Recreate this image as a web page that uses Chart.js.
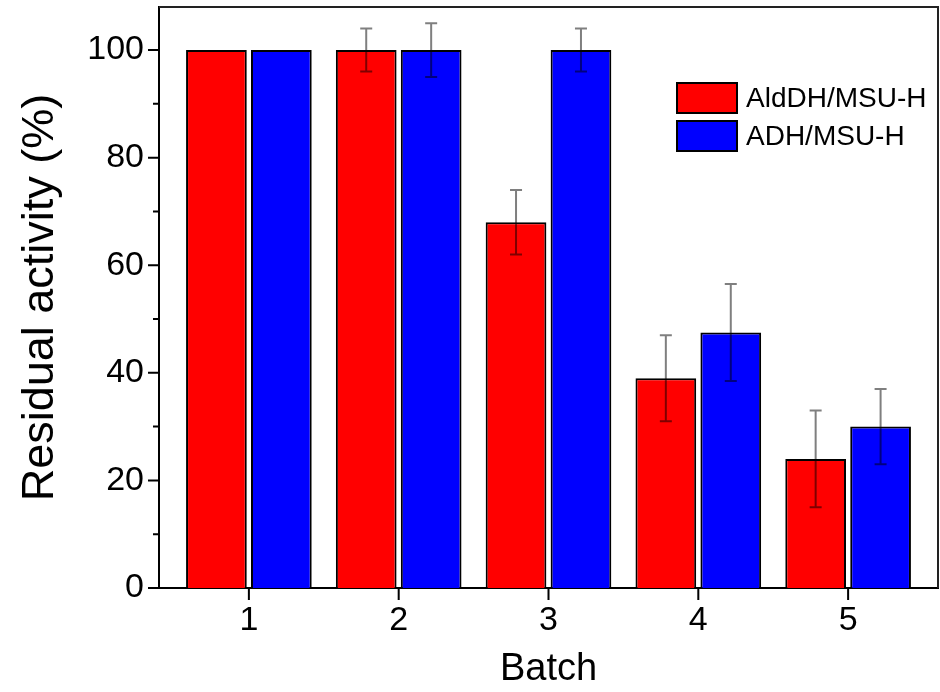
<!DOCTYPE html>
<html>
<head>
<meta charset="utf-8">
<script src="https://cdn.jsdelivr.net/npm/chart.js@4"></script>
<style>
  body { margin: 0; background: #fff; }
  canvas { display: block; }
</style>
</head>
<body>
<canvas id="batchChart" width="940" height="692"></canvas>
<script>
// === DATA ===
var BATCHES = [1, 2, 3, 4, 5];
var ALDDH_VALUES = [100, 100, 68, 39, 24];
var ALDDH_ERRORS = [0, 4, 6, 8, 9];
var ADH_VALUES = [100, 100, 100, 47.5, 30];
var ADH_ERRORS = [0, 5, 4, 9, 7];
var Y_TICKS = [0, 20, 40, 60, 80, 100];
var Y_MINOR_TICKS = [10, 30, 50, 70, 90];

var FONT = '"Liberation Sans", Arial, sans-serif';

function toPoints(values) {
  return BATCHES.map(function(b, i) { return { x: b, y: values[i] }; });
}

// Error bars drawn on top of the bars, from the bar elements + y scale
var errorBarPlugin = {
  id: 'errorBars',
  afterDatasetsDraw: function(chart) {
    var ctx = chart.ctx;
    var yScale = chart.scales.y;
    ctx.save();
    ctx.strokeStyle = 'rgba(0,0,0,0.5)';
    ctx.lineWidth = 2;
    chart.data.datasets.forEach(function(ds, i) {
      var meta = chart.getDatasetMeta(i);
      meta.data.forEach(function(bar, j) {
        var err = ds.errors[j];
        if (!err) return;
        var v = ds.data[j].y;
        var top = yScale.getPixelForValue(v + err);
        var bot = yScale.getPixelForValue(v - err);
        ctx.beginPath();
        ctx.moveTo(bar.x, top); ctx.lineTo(bar.x, bot);
        ctx.moveTo(bar.x - 6, top); ctx.lineTo(bar.x + 6, top);
        ctx.moveTo(bar.x - 6, bot); ctx.lineTo(bar.x + 6, bot);
        ctx.stroke();
      });
    });
    ctx.restore();
  }
};

// Outward tick marks, top/right frame and the legend box
var framePlugin = {
  id: 'frame',
  afterDraw: function(chart) {
    var ctx = chart.ctx;
    var area = chart.chartArea;
    var xs = chart.scales.x, ys = chart.scales.y;
    ctx.save();

    // frame
    ctx.strokeStyle = '#222';
    ctx.lineWidth = 2;
    ctx.beginPath();
    ctx.moveTo(area.left, area.top);
    ctx.lineTo(area.right, area.top);
    ctx.lineTo(area.right, area.bottom);
    ctx.stroke();

    // ticks
    ctx.strokeStyle = '#000';
    ctx.beginPath();
    Y_TICKS.forEach(function(v) {
      var p = ys.getPixelForValue(v);
      ctx.moveTo(area.left - 11, p); ctx.lineTo(area.left, p);
    });
    Y_MINOR_TICKS.forEach(function(v) {
      var p = ys.getPixelForValue(v);
      ctx.moveTo(area.left - 6, p); ctx.lineTo(area.left, p);
    });
    BATCHES.forEach(function(v) {
      var p = xs.getPixelForValue(v);
      ctx.moveTo(p, area.bottom); ctx.lineTo(p, area.bottom + 12);
    });
    ctx.stroke();

    // legend
    ctx.font = '28px ' + FONT;
    ctx.textBaseline = 'middle';
    ctx.textAlign = 'left';
    chart.data.datasets.forEach(function(ds, i) {
      var bx = 677, by = 83 + i * 38;
      ctx.fillStyle = ds.backgroundColor;
      ctx.fillRect(bx, by, 60, 30);
      ctx.lineWidth = 2;
      ctx.strokeStyle = '#000';
      ctx.strokeRect(bx, by, 60, 30);
      ctx.fillStyle = '#000';
      ctx.fillText(ds.label, bx + 69, by + 16);
    });
    ctx.restore();
  }
};

new Chart(document.getElementById('batchChart').getContext('2d'), {
  type: 'bar',
  data: {
    datasets: [
      {
        label: 'AldDH/MSU-H',
        data: toPoints(ALDDH_VALUES),
        errors: ALDDH_ERRORS,
        backgroundColor: '#ff0000', borderColor: '#000', borderWidth: 2,
        categoryPercentage: 0.867, barPercentage: 0.935
      },
      {
        label: 'ADH/MSU-H',
        data: toPoints(ADH_VALUES),
        errors: ADH_ERRORS,
        backgroundColor: '#0000ff', borderColor: '#000', borderWidth: 2,
        categoryPercentage: 0.867, barPercentage: 0.935
      }
    ]
  },
  options: {
    responsive: false, animation: false,
    layout: { padding: { top: 7, right: 2, left: 0, bottom: 0 } },
    plugins: { legend: { display: false }, tooltip: { enabled: false } },
    scales: {
      x: {
        type: 'linear', min: 0.4, max: 5.6, offset: false,
        afterBuildTicks: function(s) { s.ticks = BATCHES.map(function(v) { return { value: v }; }); },
        afterFit: function(s) { s.height = 104; s.paddingLeft = 0; s.paddingRight = 0; },
        grid: { display: false, drawTicks: false },
        border: { display: true, color: '#000', width: 2 },
        ticks: { font: { family: FONT, size: 34 }, color: '#000', padding: 12, maxRotation: 0, autoSkip: false },
        title: { display: true, text: 'Batch', color: '#000', font: { family: FONT, size: 38 }, padding: { top: 0, bottom: 0 } }
      },
      y: {
        min: 0, max: 108,
        afterBuildTicks: function(s) { s.ticks = Y_TICKS.map(function(v) { return { value: v }; }); },
        afterFit: function(s) { s.width = 159; s.paddingTop = 0; s.paddingBottom = 0; },
        grid: { display: false, drawTicks: false },
        border: { display: true, color: '#000', width: 2 },
        ticks: { font: { family: FONT, size: 34 }, color: '#000', padding: 15 },
        title: { display: true, text: 'Residual activity (%)', color: '#000', font: { family: FONT, size: 45 }, padding: { top: 14, bottom: 0 } }
      }
    }
  },
  plugins: [errorBarPlugin, framePlugin]
});
</script>
</body>
</html>
